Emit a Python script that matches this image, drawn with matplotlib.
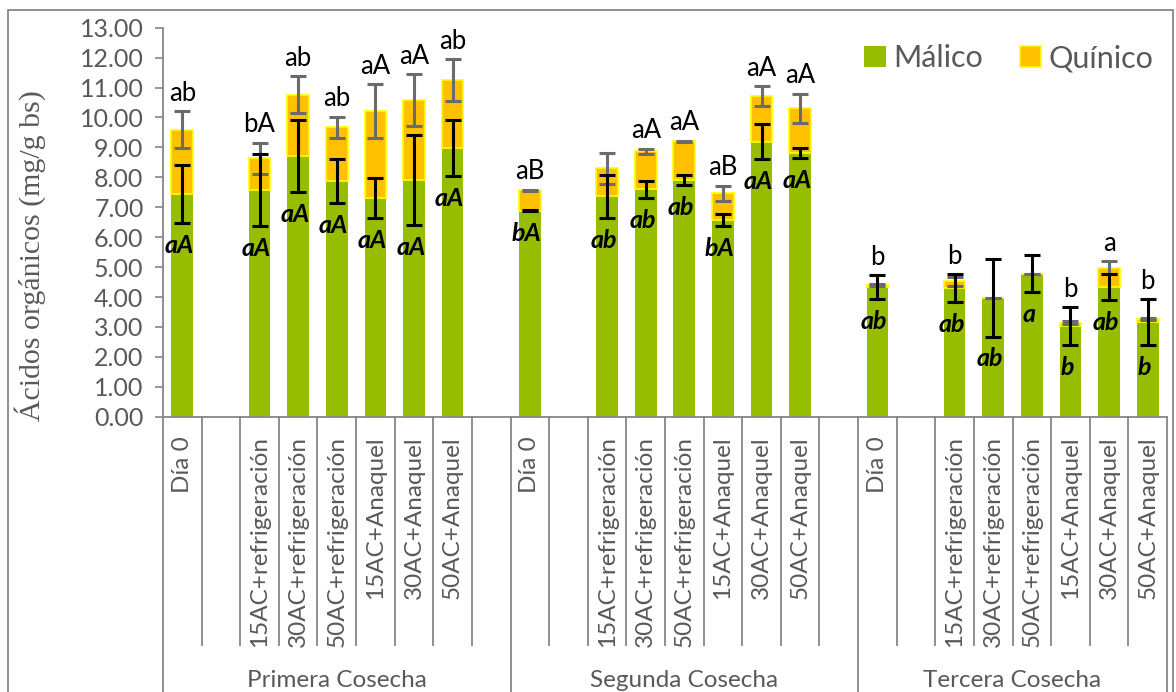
import matplotlib
matplotlib.use("Agg")
import matplotlib.pyplot as plt
from matplotlib.transforms import blended_transform_factory
from matplotlib.patches import Patch, Rectangle
from matplotlib.lines import Line2D

# ---- data -------------------------------------------------------------
groups = ["Primera Cosecha", "Segunda Cosecha", "Tercera Cosecha"]
treatments = ["Día 0", "15AC+refrigeración", "30AC+refrigeración",
              "50AC+refrigeración", "15AC+Anaquel", "30AC+Anaquel",
              "50AC+Anaquel"]

# mg/g bs, one value per (harvest, treatment) in order
malico = [7.44, 7.58, 8.70, 7.88, 7.32, 7.91, 8.98,
          6.89, 7.36, 7.60, 7.91, 6.56, 9.19, 8.80,
          4.33, 4.30, 3.97, 4.78, 3.02, 4.33, 3.17]
quinico = [2.15, 1.05, 2.06, 1.79, 2.90, 2.67, 2.26,
           0.67, 0.94, 1.27, 1.29, 0.91, 1.53, 1.50,
           0.06, 0.22, 0.00, 0.00, 0.12, 0.65, 0.09]
err_malico = [0.97, 1.20, 1.20, 0.73, 0.67, 1.50, 0.93,
              0.02, 0.73, 0.29, 0.17, 0.20, 0.58, 0.17,
              0.40, 0.47, 1.29, 0.62, 0.63, 0.43, 0.76]
err_quinico = [0.61, 0.52, 0.62, 0.35, 0.89, 0.86, 0.70,
               0.02, 0.52, 0.08, 0.03, 0.25, 0.32, 0.50,
               0.03, 0.15, 0.00, 0.00, 0.05, 0.22, 0.03]

letters_total = ["ab", "bA", "ab", "ab", "aA", "aA", "ab",
                 "aB", "", "aA", "aA", "aB", "aA", "aA",
                 "b", "b", "", "", "b", "a", "b"]
letters_malico = ["aA", "aA", "aA", "aA", "aA", "aA", "aA",
                  "bA", "ab", "ab", "ab", "bA", "aA", "aA",
                  "ab", "ab", "ab", "a", "b", "ab", "b"]

# ---- layout -----------------------------------------------------------
SLOTS_PER_GROUP = 9          # Día 0, gap, six treatments, gap
n_slots = SLOTS_PER_GROUP * len(groups) - 1
positions = []
for g in range(len(groups)):
    for i in range(len(treatments)):
        positions.append(g * SLOTS_PER_GROUP + (0 if i == 0 else i + 1))

slot_labels = [""] * n_slots
for k, p in enumerate(positions):
    slot_labels[p] = treatments[k % len(treatments)]

totals = [m + q for m, q in zip(malico, quinico)]

GREEN = "#97BD00"
ORANGE = "#FFC000"
YELLOW = "#FFFF00"
GRAY_TXT = "#595959"
AXIS_GRAY = "#868686"

plt.rcParams["font.family"] = ["Lato", "DejaVu Sans"]

W, H = 1176, 692
fig = plt.figure(figsize=(W / 100, H / 100), dpi=100)
ax_left, ax_right = 163 / W, 1167 / W
ax_bottom, ax_top = 1 - 416.7 / H, 1 - 27.7 / H
ax = fig.add_axes([ax_left, ax_bottom, ax_right - ax_left, ax_top - ax_bottom])

bw = 0.56
ax.bar(positions, malico, width=bw, color=GREEN, edgecolor="none", zorder=2,
       label="Málico")
ax.bar(positions, quinico, bottom=malico, width=bw, color=ORANGE,
       edgecolor=YELLOW, linewidth=1.2, zorder=2, label="Quínico")

ax.errorbar(positions, malico, yerr=err_malico, fmt="none", ecolor="black",
            elinewidth=2.2, capsize=5.5, capthick=2.2, zorder=4)
ax.errorbar(positions, totals, yerr=err_quinico, fmt="none", ecolor="#6b6b6b",
            elinewidth=2.2, capsize=5.5, capthick=2.2, zorder=3)

for x, m, em, t, et, up, low in zip(positions, malico, err_malico, totals,
                                    err_quinico, letters_total, letters_malico):
    if up:
        ytop = max(m + em, t + et)
        ax.text(x, ytop + 0.6, up, ha="center", va="center", fontsize=18.5,
                color="black", zorder=5)
    if low:
        ax.text(x - 0.08, m - em - 0.75, low, ha="center", va="center",
                fontsize=18, fontweight="bold", fontstyle="italic",
                color="black", zorder=5)

ax.set_xlim(-0.5, n_slots - 0.5)
ax.set_ylim(0, 13)
ax.set_yticks(range(0, 14))
ax.set_yticklabels([f"{v:.2f}" for v in range(0, 14)], fontsize=18,
                   color=GRAY_TXT)
ax.tick_params(axis="y", length=6, width=1.2, color=AXIS_GRAY, pad=8)

ax.set_xticks(range(n_slots))
ax.set_xticklabels(slot_labels, rotation=90, fontsize=17.5, color=GRAY_TXT,
                   va="top", ha="center")
ax.tick_params(axis="x", length=0, pad=14)

for s in ("top", "right"):
    ax.spines[s].set_visible(False)
for s in ("left", "bottom"):
    ax.spines[s].set_color(AXIS_GRAY)
    ax.spines[s].set_linewidth(1.3)

ax.set_ylabel("Ácidos orgánicos (mg/g bs)", family="Liberation Serif",
              fontsize=21.5, color=GRAY_TXT, va="center")
ax.yaxis.set_label_coords((30 - 163) / 1004, (416.7 - 256) / 389)

# category separators of the two-level axis
trans = blended_transform_factory(ax.transData, ax.transAxes)
short_end = -(645 - 416.7) / 389.0
long_end = -(700 - 416.7) / 389.0
group_edges = {g * SLOTS_PER_GROUP for g in range(len(groups))} | {n_slots}
for k in range(n_slots + 1):
    end = long_end if k in group_edges else short_end
    ax.add_line(Line2D([k - 0.5, k - 0.5], [0, end], transform=trans,
                       color=AXIS_GRAY, linewidth=1.3, clip_on=False))

group_y = -(680 - 416.7) / 389.0
for g, name in enumerate(groups):
    start = g * SLOTS_PER_GROUP - 0.5
    stop = min((g + 1) * SLOTS_PER_GROUP, n_slots) - 0.5
    ax.text((start + stop) / 2, group_y, name, transform=trans, ha="center",
            va="center", fontsize=17.5, color=GRAY_TXT, clip_on=False)

handles = [Patch(facecolor=GREEN, edgecolor="none", label="Málico"),
           Patch(facecolor=ORANGE, edgecolor=YELLOW, linewidth=1.2,
                 label="Quínico")]
fig.legend(handles=handles, loc="upper right", ncol=2, frameon=False,
           bbox_to_anchor=(1166 / W, 1 - 32 / H), fontsize=22,
           labelcolor=GRAY_TXT, handlelength=0.7, handleheight=0.7,
           handletextpad=0.25, columnspacing=1.2, borderaxespad=0)

# chart-area border
fig.add_artist(Rectangle((8 / W, -0.05), (1173 - 8) / W, 1.05 - 10 / H,
                         transform=fig.transFigure, fill=False,
                         edgecolor=AXIS_GRAY, linewidth=1.3))

fig.savefig("out.png", dpi=100)
